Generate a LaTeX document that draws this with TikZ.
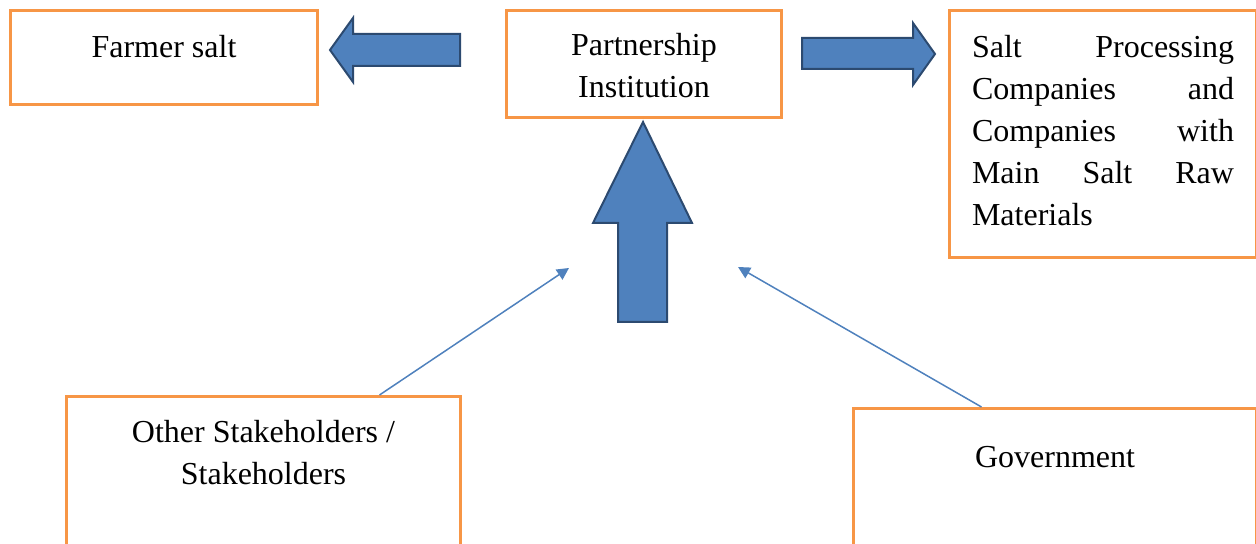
\documentclass[tikz,border=0pt]{standalone}
\usepackage{fontspec}
\setmainfont{Liberation Serif}
\usetikzlibrary{positioning,arrows.meta}
\definecolor{boxorange}{HTML}{F79646}
\definecolor{arrowblue}{HTML}{4F81BD}
\definecolor{arrowedge}{HTML}{2C4A70}
\tikzset{
    blockarrow/.style={fill=arrowblue,draw=arrowedge,line width=1pt,line join=miter},
}

\begin{document}
\begin{tikzpicture}[x=0.5pt,y=-0.5pt]
        \useasboundingbox (0,0) rectangle (1256,544);
        % boxes
        \begin{scope}[every node/.style={draw=boxorange,line width=1.5pt,anchor=north west,inner sep=0pt}]
            \node[minimum width=153.5pt,minimum height=47pt]    (farmer) at (9,9)     {};
            \node[minimum width=137.5pt,minimum height=53.5pt]  (inst)   at (505,9)   {};
            \node[minimum width=153.5pt,minimum height=123.5pt] (comp)   at (948,9)   {};
            \node[minimum width=197pt,minimum height=85pt]      (other)  at (65,395)  {};
            \node[minimum width=201.5pt,minimum height=85pt]    (gov)    at (852,407) {};
        \end{scope}
        % texts
        \begin{scope}[every node/.style={inner sep=0pt,align=center,font=\fontsize{16}{21}\selectfont}]
            \node[below=13pt of farmer.north]   (farmertext) {Farmer salt};
            \node[below=12pt of inst.north]     (insttext)   {Partnership\\Institution};
            \node[below=13pt of comp.north,text width=131pt,align=left] (comptext)
                {Salt\hfill Processing\\Companies\hfill and\\Companies\hfill with\\Main\hfill Salt\hfill Raw\\Materials};
            \node[below=12.5pt of other.north]  (othertext)  {Other Stakeholders /\\Stakeholders};
            \node[below=19.7pt of gov.north]    (govtext)    {Government};
        \end{scope}
        % block arrows
        \draw[blockarrow] (330,50) -- (353,18) -- (353,34) -- (460,34) -- (460,66) -- (353,66) -- (353,82) -- cycle;
        \draw[blockarrow] (935,54) -- (913,23) -- (913,38) -- (802,38) -- (802,69) -- (913,69) -- (913,85) -- cycle;
        \draw[blockarrow] (643,122) -- (692,223) -- (667,223) -- (667,322) -- (618,322) -- (618,223) -- (593,223) -- cycle;
        % thin arrows
        \coordinate (othertip) at (569,268);
        \coordinate (govtip)   at (738,267);
        \begin{scope}[arrowblue,line width=0.75pt,-{Triangle[length=6pt,width=6pt]}]
            \draw ([xshift=58pt]other.north) -- (othertip);
            \draw ([xshift=-36.75pt]gov.north) -- (govtip);
        \end{scope}
    \end{tikzpicture}
\end{document}
